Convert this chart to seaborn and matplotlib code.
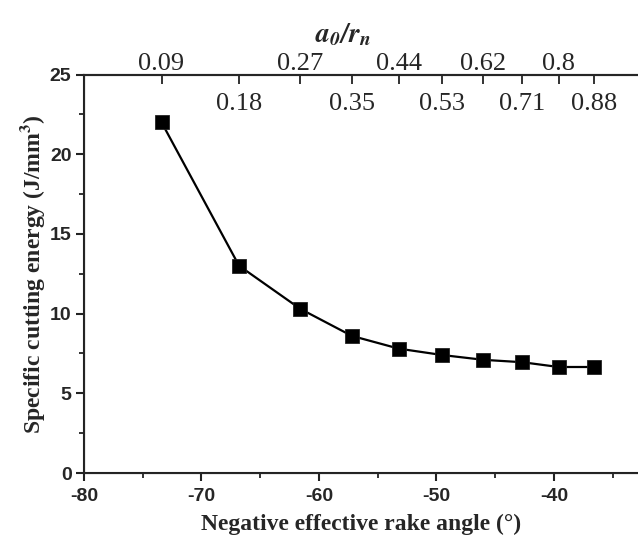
import matplotlib
matplotlib.use("Agg")
import matplotlib.pyplot as plt
import seaborn as sns
import pandas as pd
from matplotlib.ticker import MultipleLocator

# ---- data ----
rake_angle = [-73.4, -66.8, -61.6, -57.2, -53.2, -49.5, -46.0, -42.7, -39.6, -36.6]
specific_energy = [22.0, 13.0, 10.3, 8.6, 7.8, 7.4, 7.1, 6.95, 6.65, 6.65]
ratio_labels = ["0.09", "0.18", "0.27", "0.35", "0.44", "0.53", "0.62", "0.71", "0.8", "0.88"]

df = pd.DataFrame({"rake": rake_angle, "energy": specific_energy})

sns.set_style("ticks")
plt.rcParams["mathtext.fontset"] = "stix"
plt.rcParams["axes.unicode_minus"] = False

fig = plt.figure(figsize=(6.38, 5.38), dpi=100)
ax = fig.add_axes([84 / 638, (538 - 473) / 538, 1 - 84 / 638, (473 - 74.5) / 538])

sns.lineplot(data=df, x="rake", y="energy", ax=ax, color="black", linewidth=1.6,
             marker="s", markersize=9.5, markeredgecolor="#222222", markeredgewidth=0.6)

ax.set_xlim(-80, -32.85)
ax.set_ylim(0, 25)
ax.xaxis.set_major_locator(MultipleLocator(10))
ax.xaxis.set_minor_locator(MultipleLocator(5))
ax.yaxis.set_major_locator(MultipleLocator(5))
ax.yaxis.set_minor_locator(MultipleLocator(2.5))

for s in ["left", "bottom", "top"]:
    ax.spines[s].set_linewidth(1.5)
    ax.spines[s].set_color("#222222")
ax.spines["right"].set_visible(False)

ax.tick_params(which="major", direction="out", length=6, width=1.5, color="#222222",
               labelsize=14, pad=3)
ax.tick_params(axis="x", which="major", pad=5)
ax.tick_params(which="minor", direction="out", length=3.5, width=1.3, color="#222222")
for lab in ax.get_xticklabels() + ax.get_yticklabels():
    lab.set_family("Liberation Sans")
    lab.set_fontweight("bold")

ax.set_xlabel("Negative effective rake angle (°)", family="Liberation Serif",
              fontweight="bold", fontsize=17, labelpad=6)
ax.set_ylabel(r"Specific cutting energy (J/mm$^\mathbf{3}$)", family="Liberation Serif",
              fontweight="bold", fontsize=17, labelpad=2)

# top axis: a0/rn
ax2 = ax.twiny()
ax2.set_xlim(ax.get_xlim())
ax2.set_xticks(rake_angle)
ax2.set_xticklabels(ratio_labels)
ax2.spines["right"].set_visible(False)
ax2.spines["top"].set_linewidth(1.5)
ax2.tick_params(axis="x", direction="in", length=6.5, width=1.3, color="#222222",
                labelsize=19, pad=0)
for lab in ax2.get_xticklabels():
    lab.set_family("Liberation Serif")
for i, tick in enumerate(ax2.xaxis.get_major_ticks()):
    if i % 2 == 1:
        tick.set_pad(-29)

fig.text(343 / 638, 1 - 34 / 538, r"$\mathbfit{a_0/r_n}$", fontsize=20,
         ha="center", va="center")

fig.savefig("out.png", dpi=100)
